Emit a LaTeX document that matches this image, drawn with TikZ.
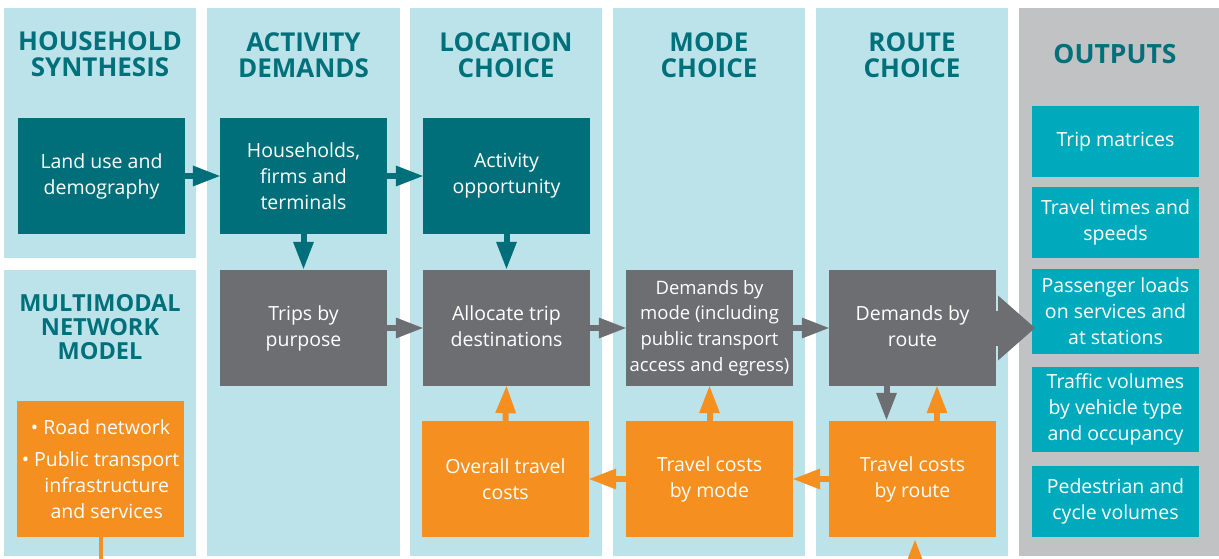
\documentclass[tikz,border=0pt]{standalone}
\usepackage{fontspec}
\setmainfont{Open Sans}
\usetikzlibrary{arrows.meta}
\definecolor{cPanel}{HTML}{BDE3EA}
\definecolor{cTeal}{HTML}{006F7A}
\definecolor{cTitle}{HTML}{00707B}
\definecolor{cGray}{HTML}{6D6E71}
\definecolor{cOrange}{HTML}{F58F20}
\definecolor{cOut}{HTML}{C1C2C4}
\definecolor{cCyan}{HTML}{00AABD}
\begin{document}
\begin{tikzpicture}[x=1pt,y=-1pt,
  box/.style={minimum width=167pt,minimum height=116pt,inner sep=0pt,align=center,text=white,font=\fontsize{19.5}{26}\selectfont},
  tbox/.style={box,fill=cTeal},
  gbox/.style={box,fill=cGray},
  obox/.style={box,fill=cOrange},
  outbox/.style={box,fill=cCyan,minimum height=71pt},
  title/.style={align=center,text=cTitle,inner sep=0pt,font=\fontsize{26}{25.5}\selectfont\bfseries},
  arr/.style={line width=6pt,-{Triangle[length=27pt,width=21pt,line width=0pt]}},
  bigarr/.style={line width=35pt,-{Triangle[length=37pt,width=65pt,line width=0pt]}}]
\useasboundingbox (0,0) rectangle (1219,559);
\clip (0,0) rectangle (1219,559);
% panels
\fill[cPanel] (4,8) rectangle (196,258);
\fill[cPanel] (4,270) rectangle (196,556);
\fill[cPanel] (207,8) rectangle (400,556);
\fill[cPanel] (410,8) rectangle (602,556);
\fill[cPanel] (613,8) rectangle (805,556);
\fill[cPanel] (816,8) rectangle (1008,556);
\fill[cOut] (1019,8) rectangle (1219,556);
% titles
\node[title] (t1) at (100,54) {HOUSEHOLD\\SYNTHESIS};
\node[title] (t2) at (303.5,55) {ACTIVITY\\DEMANDS};
\node[title] (t3) at (506,55) {LOCATION\\CHOICE};
\node[title] (t4) at (709,55) {MODE\\CHOICE};
\node[title] (t5) at (912,55) {ROUTE\\CHOICE};
\node[title,font=\fontsize{26.5}{26}\selectfont\bfseries] (t6) at (1115,54) {OUTPUTS};
\node[title,font=\fontsize{23.5}{24}\selectfont\bfseries] (t7) at (100,327.5) {MULTIMODAL\\NETWORK\\MODEL};
% boxes
\node[tbox] (land) at (101.5,176) {Land use and\\demography};
\node[tbox] (house) at (303.5,176) {Households,\\firms and\\terminals};
\node[tbox] (actopp) at (506.5,176) {Activity\\opportunity};
\node[gbox,text depth=3pt] (trips) at (303.5,328) {Trips by\\purpose};
\node[gbox,text depth=3pt] (alloc) at (506.5,328) {Allocate trip\\destinations};
\node[gbox,font=\fontsize{18.5}{25.7}\selectfont] (demmode) at (709.5,328) {Demands by\\mode (including\\public transport\\access and egress)};
\node[gbox,text depth=3pt] (demroute) at (912.5,328) {Demands by\\route};
\node[obox] (costall) at (505.5,479) {Overall travel\\costs};
\node[obox] (costmode) at (709.5,479) {Travel costs\\by mode};
\node[obox] (costroute) at (912.5,479) {Travel costs\\by route};
\node[obox,minimum height=136pt] (road) at (100.5,469) {\textbullet\ Road network\\[6pt]\textbullet\ Public transport\\\hphantom{\textbullet\ }infrastructure\\\hphantom{\textbullet\ }and services};
% outputs
\node[outbox] (o1) at (1115.5,141.5) {Trip matrices};
\node[outbox] (o2) at (1115.5,222.5) {Travel times and\\speeds};
\node[outbox,minimum height=85pt] (o3) at (1115.5,311.5) {Passenger loads\\on services and\\at stations};
\node[outbox,minimum height=85pt] (o4) at (1115.5,409.5) {Traffic volumes\\by vehicle type\\and occupancy};
\node[outbox] (o5) at (1115.5,501.5) {Pedestrian and\\cycle volumes};
% connectors
\draw[arr,cTeal] (land.east) -- (house.west);
\draw[arr,cTeal] (house.east) -- (actopp.west);
\draw[arr,cTeal] (house.south) -- ([yshift=1pt]trips.north);
\draw[arr,cTeal] (actopp.south) -- ([yshift=1pt]alloc.north);
\draw[arr,cGray] (trips.east) -- (alloc.west);
\draw[arr,cGray] (alloc.east) -- (demmode.west);
\draw[arr,cGray] (demmode.east) -- (demroute.west);
\draw[arr,cGray] ([xshift=-26pt]demroute.south) -- ([xshift=-26pt,yshift=1pt]costroute.north);
\draw[arr,cOrange] ([xshift=24.5pt]costroute.north) -- ([xshift=24.5pt]demroute.south);
\draw[arr,cOrange] (costall.north) -- (alloc.south);
\draw[arr,cOrange] (costmode.north) -- (demmode.south);
\draw[arr,cOrange] (costmode.west) -- (costall.east);
\draw[arr,cOrange] (costroute.west) -- (costmode.east);
\coordinate (bigtip) at (1035,328);
\draw[bigarr,cGray] (demroute.east) -- (bigtip);
\coordinate (below1) at (915,600);
\coordinate (tip1) at (915,540);
\draw[arr,cOrange] (below1) -- (tip1);
\coordinate (below2) at (100.5,600);
\draw[cOrange,line width=4pt] (road.south) -- (below2);
\end{tikzpicture}
\end{document}
